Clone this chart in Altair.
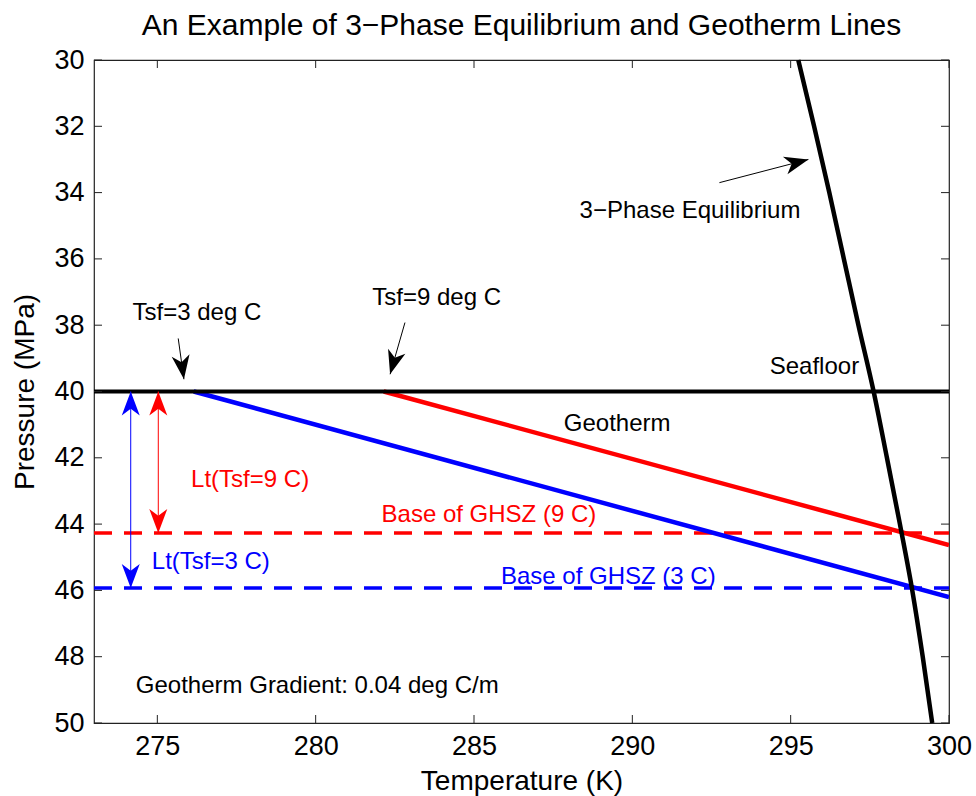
import math
import altair as alt
import pandas as pd

# ---------------- data ----------------
eq_P = [30, 32, 34, 36, 38, 40, 42, 44, 46, 48, 50]
eq_T = [295.24, 295.74, 296.22, 296.68, 297.14, 297.62, 298.04, 298.45, 298.84, 299.17, 299.47]

seafloor_T = [273, 300]
seafloor_P = [40, 40]

geo3_T = [276.15, 300]
geo3_P = [40, 46.2]
geo9_T = [282.15, 300]
geo9_P = [40, 44.63]

base_P = [44.27, 45.93]          # Base of GHSZ (9 C), (3 C)
base_colors = ["#ff0000", "#0000ff"]

x_ticks = [275, 280, 285, 290, 295, 300]
y_ticks = [30, 32, 34, 36, 38, 40, 42, 44, 46, 48, 50]

# vertical double arrows (Lt)
lt_T = [275.03, 274.16]
lt_top = [40, 40]
lt_bottom = [44.27, 45.93]
lt_colors = ["#ff0000", "#0000ff"]

# annotation arrows (start -> tip)
ann_T1 = [275.66, 282.82, 292.75]
ann_P1 = [38.40, 37.92, 33.70]
ann_T2 = [275.84, 282.35, 295.56]
ann_P2 = [39.63, 39.48, 33.00]

labels = ["Tsf=3 deg C", "Tsf=9 deg C", "3\u2212Phase Equilibrium", "Seafloor", "Geotherm",
          "Lt(Tsf=9 C)", "Base of GHSZ (9 C)", "Lt(Tsf=3 C)", "Base of GHSZ (3 C)",
          "Geotherm Gradient: 0.04 deg C/m"]
label_T = [276.25, 283.82, 291.82, 295.75, 289.52, 277.93, 285.47, 276.69, 289.24, 280.05]
label_P = [37.63, 37.18, 34.56, 39.26, 40.98, 42.67, 43.73, 45.13, 45.60, 48.88]
label_colors = ["black", "black", "black", "black", "black",
                "#ff0000", "#ff0000", "#0000ff", "#0000ff", "black"]

# ---------------- layout ----------------
W, H = 855, 663
X_DOM = [273, 300]
Y_DOM = [30, 50]
FONT = "Liberation Sans"

x_scale = alt.Scale(domain=X_DOM, nice=False, zero=False)
y_scale = alt.Scale(domain=Y_DOM, nice=False, zero=False, reverse=True)

x_axis = alt.Axis(title="Temperature (K)", values=x_ticks, ticks=False, domain=False, grid=False,
                  labelFontSize=27, labelFont=FONT, labelColor="black", labelPadding=10,
                  titleFontSize=28, titleFont=FONT, titleFontWeight="normal", titleColor="black",
                  titlePadding=8, labelFlush=False)
y_axis = alt.Axis(title="Pressure (MPa)", values=y_ticks, ticks=False, domain=False, grid=False,
                  labelFontSize=27, labelFont=FONT, labelColor="black", labelPadding=10,
                  titleFontSize=28, titleFont=FONT, titleFontWeight="normal", titleColor="black",
                  titlePadding=14, labelFlush=False)


def X(f="T"):
    return alt.X(f"{f}:Q", scale=x_scale, axis=x_axis)


def Y(f="P"):
    return alt.Y(f"{f}:Q", scale=y_scale, axis=y_axis)


sx = W / (X_DOM[1] - X_DOM[0])
sy = H / (Y_DOM[1] - Y_DOM[0])

# ---------------- layers ----------------
base_df = pd.DataFrame({"T1": [X_DOM[0]] * 2, "T2": [X_DOM[1]] * 2, "P": base_P, "c": base_colors})
base_lines = alt.Chart(base_df).mark_rule(strokeWidth=3.5, strokeDash=[18, 12]).encode(
    x=X("T1"), x2="T2", y=Y(), color=alt.Color("c:N", scale=None))

geo3 = alt.Chart(pd.DataFrame({"T": geo3_T, "P": geo3_P})).mark_line(
    color="#0000ff", strokeWidth=4.5, clip=True).encode(x=X(), y=Y())
geo9 = alt.Chart(pd.DataFrame({"T": geo9_T, "P": geo9_P})).mark_line(
    color="#ff0000", strokeWidth=4.5, clip=True).encode(x=X(), y=Y())

seafloor = alt.Chart(pd.DataFrame({"T": seafloor_T, "P": seafloor_P})).mark_line(
    color="black", strokeWidth=4).encode(x=X(), y=Y())

eq_df = pd.DataFrame({"T": eq_T, "P": eq_P})
eq_line = alt.Chart(eq_df).mark_line(color="black", strokeWidth=4.5, interpolate="monotone").encode(
    x=X(), y=Y(), order="P:Q")

# double arrows
lt_df = pd.DataFrame({"T": lt_T, "P1": lt_top, "P2": lt_bottom, "c": lt_colors})
lt_lines = alt.Chart(lt_df).mark_rule(strokeWidth=1).encode(
    x=X(), y=Y("P1"), y2="P2", color=alt.Color("c:N", scale=None))

ann_df = pd.DataFrame({"T1": ann_T1, "P1": ann_P1, "T2": ann_T2, "P2": ann_P2})
ann_lines = alt.Chart(ann_df).mark_rule(strokeWidth=1, color="black").encode(
    x=X("T1"), x2="T2", y=Y("P1"), y2="P2")

head_T, head_P, head_a, head_c = [], [], [], []
for t, p1, p2, c in zip(lt_T, lt_top, lt_bottom, lt_colors):
    head_T += [t, t]
    head_P += [p1, p2]
    head_a += [0, 180]
    head_c += [c, c]
for t1, p1, t2, p2 in zip(ann_T1, ann_P1, ann_T2, ann_P2):
    dx = (t2 - t1) * sx
    dy = (p2 - p1) * sy
    a = math.degrees(math.atan2(dx, -dy)) % 360
    head_T.append(t2)
    head_P.append(p2)
    head_a.append(a)
    head_c.append("black")
heads_df = pd.DataFrame({"T": head_T, "P": head_P, "ang": head_a, "c": head_c})
ARROW = "M0,0 L0.6,1.6 L0,1.15 L-0.6,1.6 Z"
heads = alt.Chart(heads_df).mark_point(shape=ARROW, filled=True, size=900, opacity=1,
                                       strokeWidth=0).encode(
    x=X(), y=Y(), angle=alt.Angle("ang:Q", scale=None), color=alt.Color("c:N", scale=None))

txt_df = pd.DataFrame({"T": label_T, "P": label_P, "text": labels, "c": label_colors})
texts = alt.Chart(txt_df).mark_text(fontSize=24, font=FONT, align="center", baseline="middle").encode(
    x=X(), y=Y(), text="text:N", color=alt.Color("c:N", scale=None))

# inward MATLAB-style ticks on all four sides
xt = pd.DataFrame({"T": x_ticks})
yt = pd.DataFrame({"P": y_ticks})
tick_b = alt.Chart(xt).mark_rule(color="#222222", strokeWidth=1).encode(
    x=X(), y=alt.value(H), y2=alt.value(H - 8))
tick_t = alt.Chart(xt).mark_rule(color="#222222", strokeWidth=1).encode(
    x=X(), y=alt.value(0), y2=alt.value(8))
tick_l = alt.Chart(yt).mark_rule(color="#222222", strokeWidth=1).encode(
    y=Y(), x=alt.value(0), x2=alt.value(8))
tick_r = alt.Chart(yt).mark_rule(color="#222222", strokeWidth=1).encode(
    y=Y(), x=alt.value(W), x2=alt.value(W - 8))

chart = alt.layer(
    base_lines, geo3, geo9, seafloor, eq_line, lt_lines, ann_lines, heads, texts,
    tick_b, tick_t, tick_l, tick_r,
).properties(
    width=W, height=H,
    title=alt.TitleParams(text="An Example of 3\u2212Phase Equilibrium and Geotherm Lines",
                          fontSize=30, fontWeight="normal", font=FONT, color="black",
                          anchor="middle", offset=5),
    autosize=alt.AutoSizeParams(type="none"),
    padding={"left": 94, "top": 60, "right": 27, "bottom": 73},
    background="white",
).configure_view(stroke="#222222", strokeWidth=1.2)

chart.save("out.html", embed_options={"renderer": "svg", "actions": False})
